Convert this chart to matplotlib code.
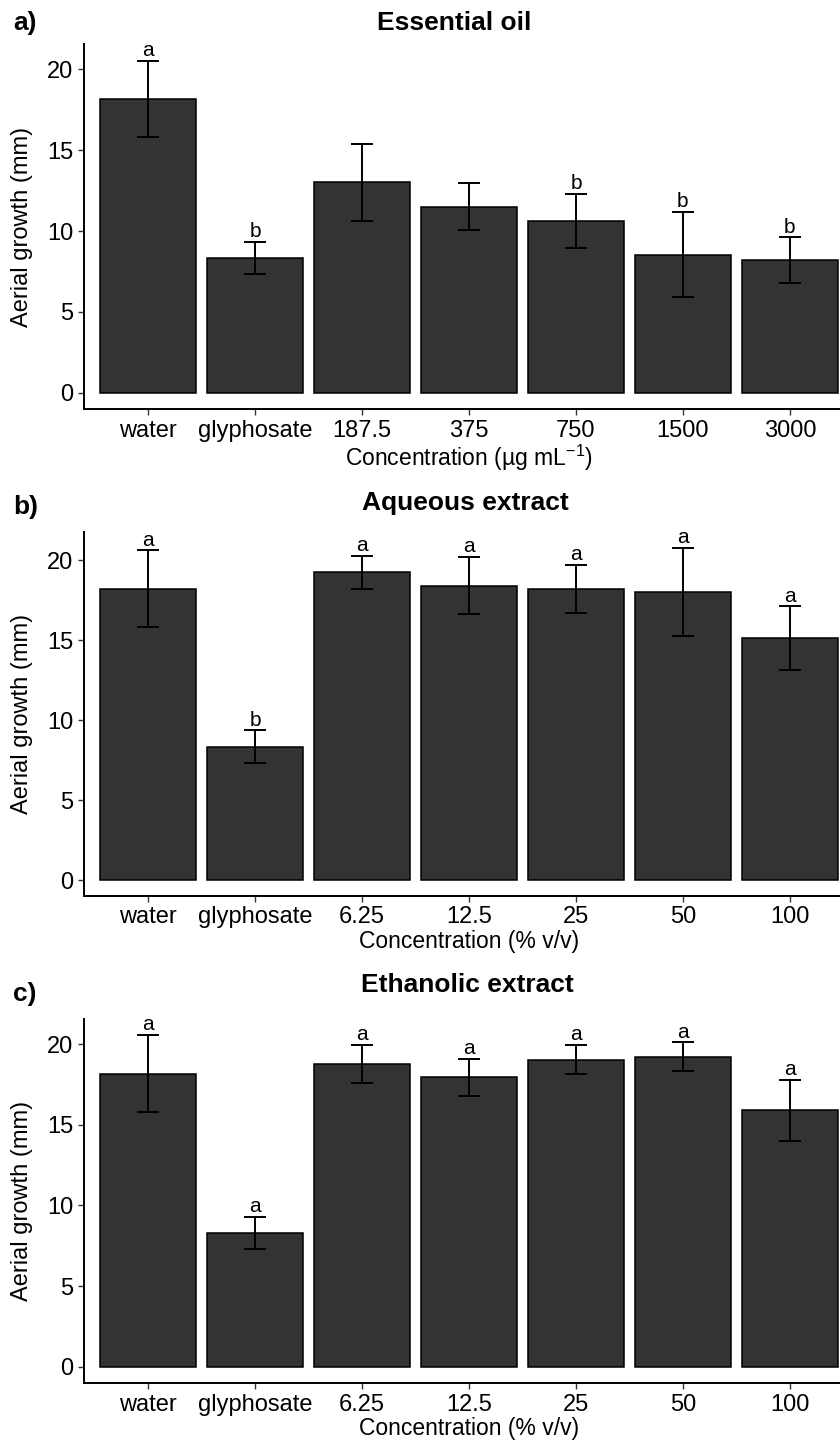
import numpy as np
import matplotlib
matplotlib.use("Agg")
import matplotlib.pyplot as plt

plt.rcParams["font.family"] = ["Liberation Sans", "DejaVu Sans"]
plt.rcParams["mathtext.fontset"] = "custom"
plt.rcParams["mathtext.rm"] = "Liberation Sans"
plt.rcParams["mathtext.it"] = "Liberation Sans:italic"

# panel a) essential oil
cats_oil = ["water", "glyphosate", "187.5", "375", "750", "1500", "3000"]
mean_oil = [18.15, 8.31, 13.02, 11.50, 10.62, 8.54, 8.20]
err_oil = [2.36, 1.00, 2.37, 1.45, 1.65, 2.64, 1.40]
letters_oil = ["a", "b", "", "", "b", "b", "b"]

# panels b) and c) share the concentration labels
cats_ext = ["water", "glyphosate", "6.25", "12.5", "25", "50", "100"]

mean_aq = [18.20, 8.33, 19.23, 18.40, 18.20, 18.02, 15.10]
err_aq = [2.40, 1.02, 1.02, 1.78, 1.50, 2.74, 2.00]
letters_aq = ["a", "b", "a", "a", "a", "a", "a"]

mean_eth = [18.16, 8.30, 18.76, 17.93, 19.02, 19.20, 15.90]
err_eth = [2.38, 0.98, 1.18, 1.16, 0.90, 0.90, 1.88]
letters_eth = ["a", "a", "a", "a", "a", "a", "a"]

W, H = 840, 1443
BAR_COLOR = "#333333"


def draw_panel(ax, cats, means, errs, letters, ylim, xlabel):
	x = np.arange(1, len(cats) + 1)
	ax.bar(x, means, width=0.9, color=BAR_COLOR, edgecolor="black", linewidth=1.1, zorder=2)
	ax.errorbar(x, means, yerr=errs, fmt="none", ecolor="black", elinewidth=1.4,
		capsize=7.7, capthick=1.4, zorder=3)
	for xi, m, e, lab in zip(x, means, errs, letters):
		if lab:
			ax.text(xi, m + e + 0.3, lab, ha="center", va="baseline", fontsize=15)
	ax.set_xlim(0.4, len(cats) + 0.6)
	ax.set_ylim(*ylim)
	ax.set_xticks(x)
	ax.set_xticklabels(cats)
	ax.set_yticks([0, 5, 10, 15, 20])
	ax.tick_params(axis="both", labelsize=17, length=4, width=1.0, pad=3.5, color="#333333")
	for side in ("top", "right"):
		ax.spines[side].set_visible(False)
	for side in ("left", "bottom"):
		ax.spines[side].set_linewidth(1.4)
	ax.set_ylabel("Aerial growth (mm)", fontsize=17, labelpad=10)
	ax.set_xlabel(xlabel, fontsize=16.5, labelpad=1)


fig = plt.figure(figsize=(W / 100, H / 100), dpi=100)

# axes boxes measured in pixels: (top, bottom)
boxes = [(44, 409.3), (531.7, 896), (1019.3, 1383.3)]
left_px, right_px = 84, 854

panels = [
	(cats_oil, mean_oil, err_oil, letters_oil, (-1.03, 21.57), "Concentration (µg mL$^{-1}$)",
		"Essential oil", "a)", 454, 23, 23),
	(cats_ext, mean_aq, err_aq, letters_aq, (-1.0, 21.77), "Concentration (% v/v)",
		"Aqueous extract", "b)", 465, 503, 507),
	(cats_ext, mean_eth, err_eth, letters_eth, (-1.01, 21.53), "Concentration (% v/v)",
		"Ethanolic extract", "c)", 467, 985, 994),
]

for (top, bot), p in zip(boxes, panels):
	cats, means, errs, letters, ylim, xlabel, title, tag, tx, ty, tagy = p
	ax = fig.add_axes([left_px / W, 1 - bot / H, (right_px - left_px) / W, (bot - top) / H])
	draw_panel(ax, cats, means, errs, letters, ylim, xlabel)
	fig.text(tx / W, 1 - ty / H, title, ha="center", va="center", fontsize=19, fontweight="bold")
	fig.text(13 / W, 1 - tagy / H, tag, ha="left", va="center", fontsize=19, fontweight="bold")

fig.savefig("out.png", dpi=100)
